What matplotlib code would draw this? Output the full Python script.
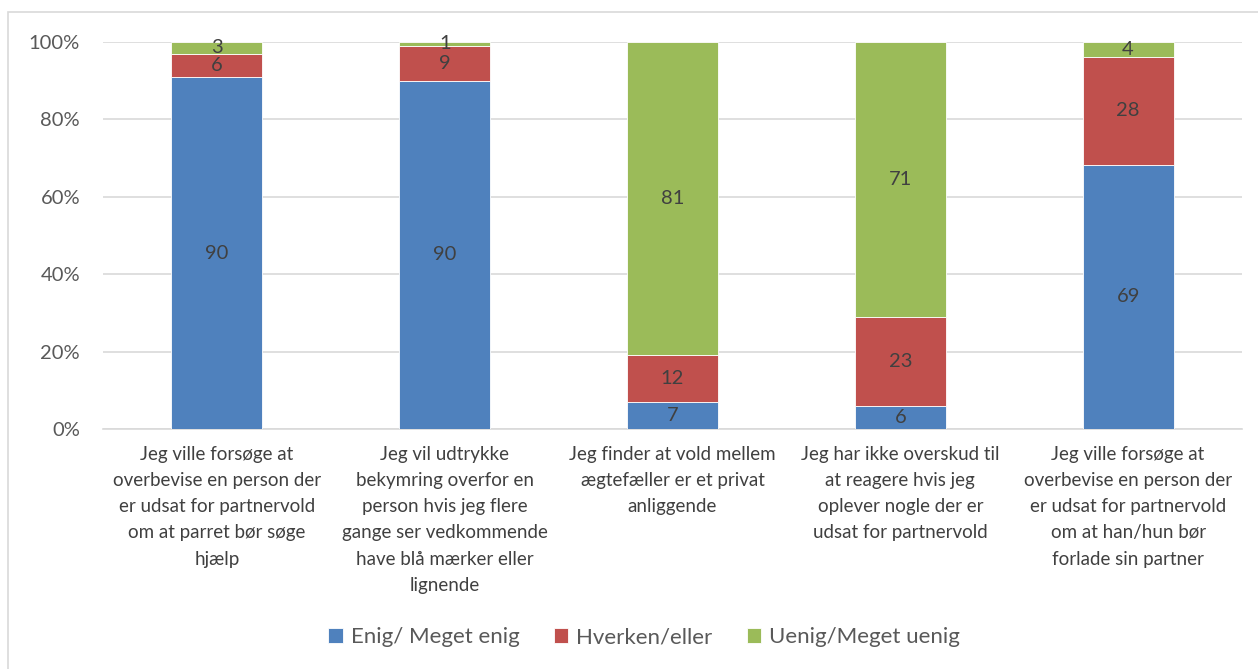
import numpy as np
import matplotlib.pyplot as plt
from matplotlib.patches import Rectangle

# Survey answers (raw percentages shown as labels, bars drawn as 100% stacked)
categories = [
    "Jeg ville forsøge at\noverbevise en person der\ner udsat for partnervold\nom at parret bør søge\nhjælp",
    "Jeg vil udtrykke\nbekymring overfor en\nperson hvis jeg flere\ngange ser vedkommende\nhave blå mærker eller\nlignende",
    "Jeg finder at vold mellem\nægtefæller er et privat\nanliggende",
    "Jeg har ikke overskud til\nat reagere hvis jeg\noplever nogle der er\nudsat for partnervold",
    "Jeg ville forsøge at\noverbevise en person der\ner udsat for partnervold\nom at han/hun bør\nforlade sin partner",
]
enig = [90, 90, 7, 6, 69]
hverken = [6, 9, 12, 23, 28]
uenig = [3, 1, 81, 71, 4]

series_names = ["Enig/ Meget enig", "Hverken/eller", "Uenig/Meget uenig"]
colors = ["#4f81bd", "#c0504d", "#9bbb59"]

plt.rcParams['font.family'] = ['Lato', 'DejaVu Sans']

fig = plt.figure(figsize=(12.58, 6.69), dpi=100)
# outer chart border
fig.patches.append(Rectangle((8 / 1258, -0.1), 1.2, 1 - 12 / 669 + 0.1,
                             transform=fig.transFigure, fill=False,
                             edgecolor="#d9d9d9", linewidth=1.2))

ax = fig.add_axes([103 / 1258, 1 - 429 / 669, (1242 - 103) / 1258, (429 - 42) / 669])

raw = np.array([enig, hverken, uenig], dtype=float)
share = raw / raw.sum(axis=0) * 100
x = np.arange(len(categories))

bottom = np.zeros(len(categories))
for i, name in enumerate(series_names):
    bars = ax.bar(x, share[i], 0.4, bottom=bottom, color=colors[i], label=name,
                  edgecolor="white", linewidth=0.6, zorder=3)
    for b, val in zip(bars, raw[i]):
        ax.text(b.get_x() + b.get_width() / 2, b.get_y() + b.get_height() / 2,
                f"{val:.0f}", ha="center", va="center", fontsize=14.5,
                color="#404040", zorder=4)
    bottom += share[i]

ax.set_xlim(-0.5, len(categories) - 0.5)
ax.set_ylim(0, 100)
ax.set_yticks(np.arange(0, 101, 20))
ax.set_yticklabels([f"{v}%" for v in range(0, 101, 20)])
ax.set_xticks(x)
ax.set_xticklabels(categories, fontsize=13.5, color="#404040", linespacing=1.66)
ax.tick_params(axis="y", labelsize=14.5, labelcolor="#595959", length=0, pad=16.5)
ax.tick_params(axis="x", length=0, pad=12)
ax.yaxis.grid(True, color="#d9d9d9", linewidth=1.2, zorder=0)
for s in ["top", "right", "left"]:
    ax.spines[s].set_visible(False)
ax.spines["bottom"].set_color("#d9d9d9")
ax.spines["bottom"].set_linewidth(1.2)

fig.legend(loc="center", bbox_to_anchor=(644 / 1258, 1 - 637 / 669), ncol=3,
           frameon=False, fontsize=16, handlelength=0.65, handleheight=0.65,
           handletextpad=0.35, columnspacing=1.55, labelcolor="#595959")

fig.savefig("out.png", dpi=100)
